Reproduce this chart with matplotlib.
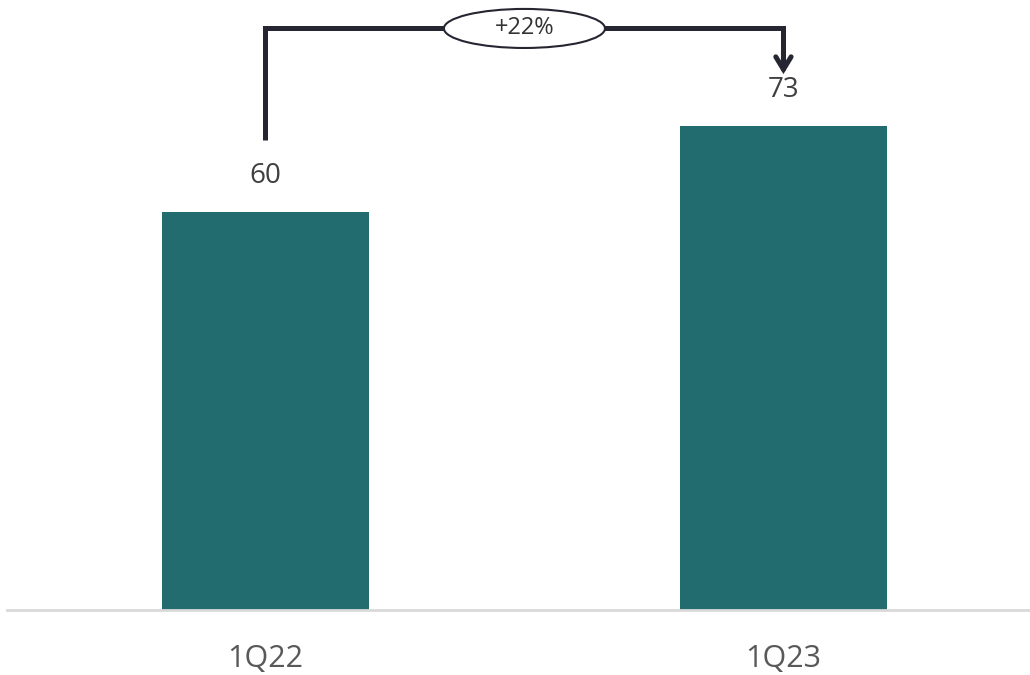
import matplotlib.pyplot as plt
from matplotlib.patches import Ellipse

quarters = ["1Q22", "1Q23"]
values = [60, 73]
growth_label = "+22%"

bar_color = "#226B6F"
line_color = "#262633"

plt.rcParams['font.family'] = ['Open Sans', 'DejaVu Sans']

fig = plt.figure(figsize=(10.3, 6.75), dpi=100)
ax = fig.add_axes([7 / 1030, 65.5 / 675, 1023 / 1030, 609.5 / 675])

x = list(range(len(quarters)))
ax.bar(x, values, width=0.4, color=bar_color)
ax.set_xlim(-0.499, 1.476)
ax.set_ylim(0, 92.1)

# etiquetas de valor
for xi, v in zip(x, values):
    ax.text(xi, v + 5.5, f"{v}", ha='center', va='center', fontsize=20, color='#404040')

# eixos
for side in ['top', 'right', 'left']:
    ax.spines[side].set_visible(False)
ax.spines['bottom'].set_color('#D9D9D9')
ax.spines['bottom'].set_linewidth(2)
ax.set_yticks([])
ax.set_xticks(x)
ax.set_xticklabels(quarters, fontsize=22, color='#595959')
ax.tick_params(axis='x', length=0, pad=25)

# colchete com seta de crescimento
y_top = max(values) + 14.8
tip = values[1] + 7.9
ax.plot([x[0], x[0], x[1], x[1]], [values[0] + 11, y_top, y_top, tip + 1.0], color=line_color,
        lw=3.6, solid_joinstyle='miter', solid_capstyle='butt', zorder=3)
ax.annotate('', xy=(x[1], tip), xytext=(x[1], tip + 3.5),
            arrowprops=dict(arrowstyle='->,head_length=0.9,head_width=0.55', color=line_color, lw=3.6,
                            shrinkA=0, shrinkB=0, joinstyle='miter'), zorder=3)

ell = Ellipse((0.5, y_top), width=0.311, height=5.9, facecolor='white',
              edgecolor=line_color, lw=1.5, zorder=4)
ax.add_patch(ell)
ax.text(0.5, y_top, growth_label, ha='center', va='center', fontsize=17, color='#333333', zorder=5)

fig.savefig('out.png', dpi=100)
